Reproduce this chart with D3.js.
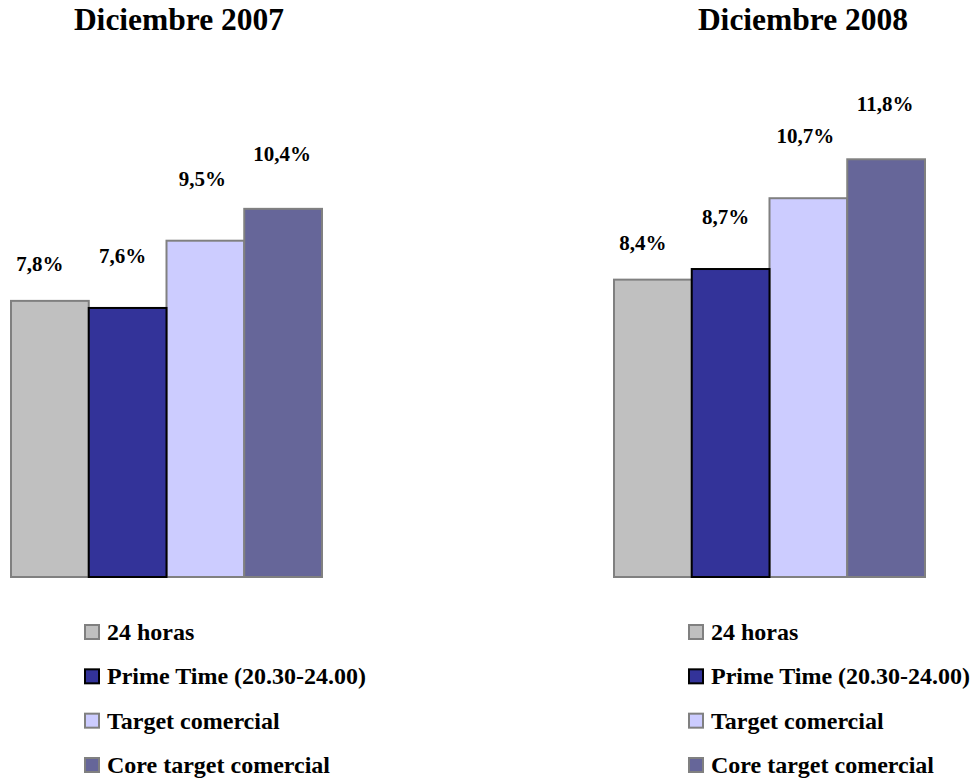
<!DOCTYPE html>
<html lang="es">
<head>
    <meta charset="UTF-8">
    <title>Audiencia Diciembre 2007 / 2008</title>
    <style>
        body{
            margin: 0;
            background: #ffffff;
        }
        svg{
            display: block;
        }
        svg text{
            font-family: 'Liberation Serif', 'Times New Roman', Times, 'DejaVu Serif', serif;
            font-weight: 700;
            fill: #000;
        }
        .title{
            font-size: 31.5px;
        }
        .valueLabel{
            font-size: 21px;
        }
        .legendText{
            font-size: 24px;
        }
    </style>
    <script src="https://cdn.jsdelivr.net/npm/d3@7"></script>
</head>
<body>
<script>
    // data
    const periods = ["Diciembre 2007", "Diciembre 2008"]
    const series = ["24 horas", "Prime Time (20.30-24.00)", "Target comercial", "Core target comercial"]
    const values2007 = [7.8, 7.6, 9.5, 10.4]
    const values2008 = [8.4, 8.7, 10.7, 11.8]
    const valueLabels2007 = ["7,8%", "7,6%", "9,5%", "10,4%"]
    const valueLabels2008 = ["8,4%", "8,7%", "10,7%", "11,8%"]

    // styles
    const fills = ["#c0c0c0", "#333399", "#ccccff", "#666699"]
    const strokes = ["#808080", "#000000", "#808080", "#808080"]
    const labelLift = [30, 45, 55, 48]   // label baseline above bar top
    const labelShift = [-10, -5, -3, -1] // label centre vs bar centre

    const width = 972, height = 782
    const svg = d3.select("body").append("svg")
        .attr("width", width)
        .attr("height", height)
        .attr("viewBox", `0,0,${width},${height}`)

    const panels = [
        {title: periods[0], values: values2007, labels: valueLabels2007, x0: 11, x1: 322, titleX: 179, legendX: 84},
        {title: periods[1], values: values2008, labels: valueLabels2008, x0: 614, x1: 925, titleX: 803, legendX: 688}
    ]

    // same value scale for both panels
    const yScale = d3.scaleLinear()
        .domain([0, 12])
        .range([577, 577 - 12 * 35.4])

    panels.forEach(p => {
        const g = svg.append("g")

        const xScale = d3.scaleBand()
            .domain(series)
            .range([p.x0, p.x1])
            .paddingInner(0)
            .paddingOuter(0)

        g.append("text")
            .attr("class", "title")
            .attr("x", p.titleX)
            .attr("y", 30)
            .attr("text-anchor", "middle")
            .text(p.title)

        const rows = series.map((s, i) => ({name: s, value: p.values[i], label: p.labels[i], i: i}))

        // bars: draw the dark-outlined one last so its border sits on top
        g.selectAll(".bar")
            .data(rows.slice().sort((a, b) => (a.i === 1) - (b.i === 1)))
            .enter()
            .append("rect")
            .attr("class", "bar")
            .attr("x", d => xScale(d.name))
            .attr("y", d => yScale(d.value))
            .attr("width", xScale.bandwidth())
            .attr("height", d => yScale(0) - yScale(d.value))
            .attr("fill", d => fills[d.i])
            .attr("stroke", d => strokes[d.i])
            .attr("stroke-width", 2)

        g.selectAll(".valueLabel")
            .data(rows)
            .enter()
            .append("text")
            .attr("class", "valueLabel")
            .attr("text-anchor", "middle")
            .attr("x", d => xScale(d.name) + xScale.bandwidth() / 2 + labelShift[d.i])
            .attr("y", d => yScale(d.value) - labelLift[d.i])
            .text(d => d.label)

        // legend
        const legendY = d3.scalePoint()
            .domain(series)
            .range([640, 773])

        const legend = g.selectAll(".legendRow")
            .data(rows)
            .enter()
            .append("g")
            .attr("class", "legendRow")
            .attr("transform", d => `translate(${p.legendX},${legendY(d.name)})`)

        legend.append("rect")
            .attr("x", 1)
            .attr("y", -15)
            .attr("width", 14)
            .attr("height", 14)
            .attr("fill", d => fills[d.i])
            .attr("stroke", d => strokes[d.i])
            .attr("stroke-width", 2)

        legend.append("text")
            .attr("class", "legendText")
            .attr("x", 23)
            .attr("y", 0)
            .text(d => d.name)
    })
</script>
</body>
</html>
